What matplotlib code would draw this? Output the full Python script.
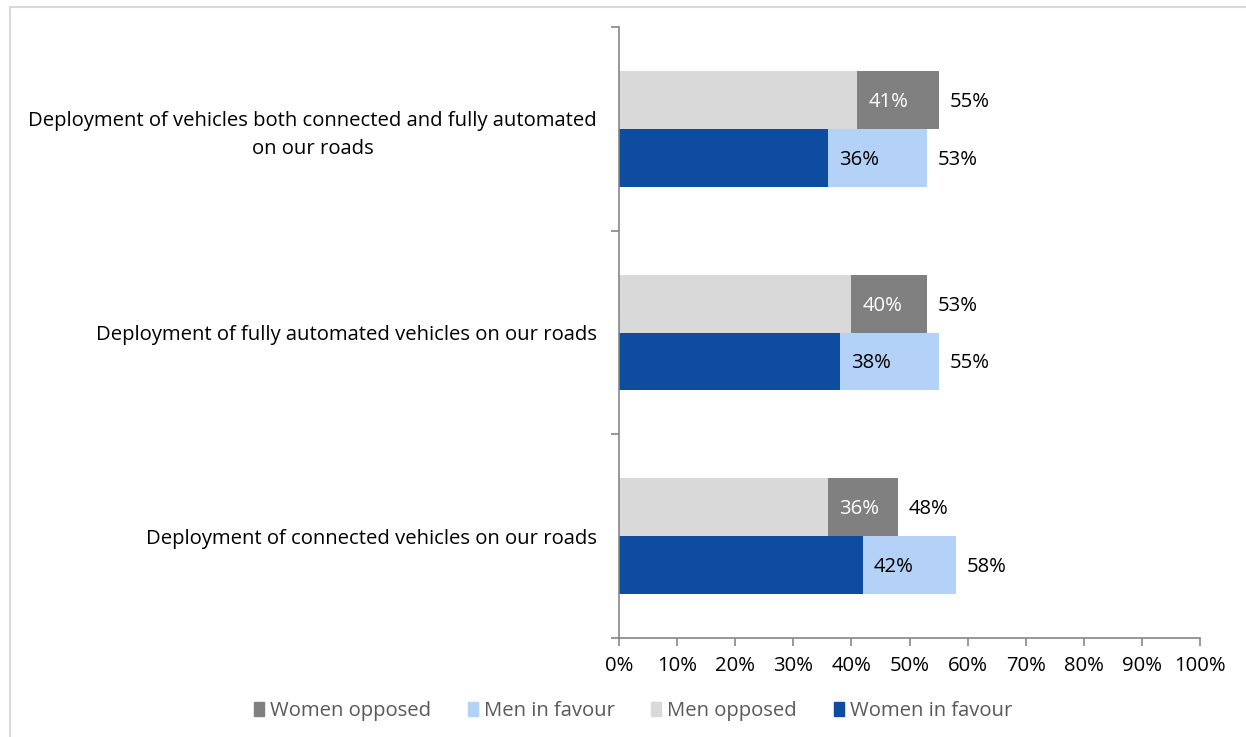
import matplotlib.pyplot as plt
import matplotlib.patches as mpatches
import numpy as np

plt.rcParams['font.family'] = ['Open Sans', 'DejaVu Sans']

categories = ['Deployment of vehicles both connected and fully automated\non our roads',
              'Deployment of fully automated vehicles on our roads',
              'Deployment of connected vehicles on our roads']
women_opposed = [55, 53, 48]
men_opposed = [41, 40, 36]
men_favour = [53, 55, 58]
women_favour = [36, 38, 42]

c_wopp = '#808080'
c_mopp = '#d9d9d9'
c_mfav = '#b4d1f7'
c_wfav = '#0d4c9f'

fig = plt.figure(figsize=(12.46, 7.37), dpi=100)
ax = fig.add_axes([619/1246, 99/737, 581/1246, 611/737])

y = np.arange(len(categories))[::-1].astype(float)
h = 58/204
top = y + h/2
bot = y - h/2

ax.barh(top, women_opposed, height=h, color=c_wopp)
ax.barh(top, men_opposed, height=h, color=c_mopp)
ax.barh(bot, men_favour, height=h, color=c_mfav)
ax.barh(bot, women_favour, height=h, color=c_wfav)

fs = 14.6
for i in range(len(categories)):
    ax.text(men_opposed[i] + 1.9, top[i] - 0.01, f'{men_opposed[i]}%', va='center', ha='left',
            color='white', fontsize=fs)
    ax.text(women_opposed[i] + 1.9, top[i] - 0.01, f'{women_opposed[i]}%', va='center', ha='left',
            color='black', fontsize=fs)
    ax.text(women_favour[i] + 1.9, bot[i] - 0.01, f'{women_favour[i]}%', va='center', ha='left',
            color='black', fontsize=fs)
    ax.text(men_favour[i] + 1.9, bot[i] - 0.01, f'{men_favour[i]}%', va='center', ha='left',
            color='black', fontsize=fs)

ax.set_xlim(0, 100)
ax.set_ylim(-0.5, 2.5)
ax.set_xticks(np.arange(0, 101, 10))
ax.set_xticklabels([f'{v}%' for v in range(0, 101, 10)], fontsize=fs)
ax.set_yticks([-0.5, 0.5, 1.5, 2.5])
ax.set_yticklabels([])
ax.set_yticks(y, minor=True)
ax.set_yticklabels(categories, minor=True, fontsize=fs, ha='right',
                   multialignment='center', linespacing=1.5)
ax.tick_params(axis='y', which='minor', length=0, pad=16)
ax.tick_params(axis='y', which='major', length=6, color='#868686', width=1.2)
ax.tick_params(axis='x', length=6, color='#868686', width=1.2, pad=7)
for s in ['top', 'right']:
    ax.spines[s].set_visible(False)
for s in ['left', 'bottom']:
    ax.spines[s].set_color('#868686')
    ax.spines[s].set_linewidth(1.2)

handles = [mpatches.Patch(color=c_wopp, label='Women opposed'),
           mpatches.Patch(color=c_mfav, label='Men in favour'),
           mpatches.Patch(color=c_mopp, label='Men opposed'),
           mpatches.Patch(color=c_wfav, label='Women in favour')]
leg = fig.legend(handles=handles, loc='center', bbox_to_anchor=(633/1246, 1 - 711/737),
                 ncol=4, frameon=False, fontsize=fs, handlelength=0.5, handleheight=0.65,
                 handletextpad=0.3, columnspacing=1.8)
for t in leg.get_texts():
    t.set_color('#595959')

fig.add_artist(mpatches.Rectangle((10/1246, -0.1), 1.2, 1 - 7/737 + 0.1,
                                  transform=fig.transFigure, fill=False,
                                  edgecolor='#d9d9d9', linewidth=1.5))

fig.savefig('out.png', dpi=100)
